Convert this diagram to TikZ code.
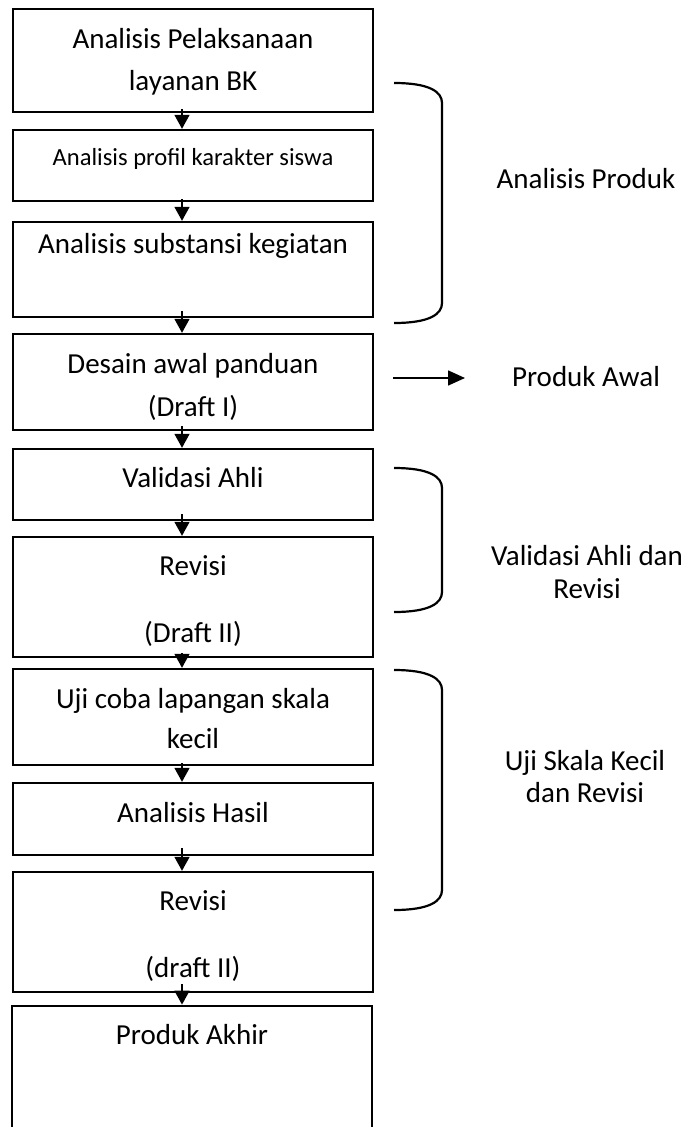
\documentclass[tikz,border=0pt]{standalone}
\usepackage{fontspec}
\setmainfont{Carlito}
\usetikzlibrary{arrows.meta}
\begin{document}
\begin{tikzpicture}[x=1pt,y=-1pt,
  box/.style={draw=black, line width=2.4pt, rectangle, inner sep=0pt, minimum width=360pt},
  txt/.style={anchor=base, inner sep=0pt, font=\fontsize{29}{35}\selectfont},
  smalltxt/.style={anchor=base, inner sep=0pt, font=\fontsize{24.6}{30}\selectfont},
  flow/.style={line width=1.6pt, -{Triangle[width=15pt,length=14pt]}},
  sideflow/.style={line width=1.6pt, -{Triangle[width=15pt,length=17pt]}},
  brace/.style={line width=2.2pt},
]
\clip (0,0) rectangle (688,1127);
\useasboundingbox (0,0) rectangle (688,1127);
\coordinate (ax) at (182,0);

% boxes
\node[box, minimum height=103pt] (b1) at (193,60.5) {};
\node[box, minimum height=71pt]  (b2) at (193,165.5) {};
\node[box, minimum height=95pt]  (b3) at (193,269.5) {};
\node[box, minimum height=96pt]  (b4) at (193,382) {};
\node[box, minimum height=71pt]  (b5) at (193,484.5) {};
\node[box, minimum height=120pt] (b6) at (193,597) {};
\node[box, minimum height=96pt]  (b7) at (193,717) {};
\node[box, minimum height=72pt]  (b8) at (193,819) {};
\node[box, minimum height=120pt] (b9) at (193,932) {};
\node[box, line width=2.8pt, minimum height=134pt] (b10) at (192,1073) {};

% box texts
\node[txt] (t1a) at (193,48) {Analisis Pelaksanaan};
\node[txt] (t1b) at (193,90) {layanan BK};
\node[smalltxt] (t2) at (193,165) {Analisis profil karakter siswa};
\node[txt] (t3) at (193,253) {Analisis substansi kegiatan};
\node[txt] (t4a) at (193,373) {Desain awal panduan};
\node[txt] (t4b) at (193,416) {(Draft I)};
\node[txt] (t5) at (193,487) {Validasi Ahli};
\node[txt] (t6a) at (193,575) {Revisi};
\node[txt] (t6b) at (193,642) {(Draft II)};
\node[txt] (t7a) at (193,708) {Uji coba lapangan skala};
\node[txt] (t7b) at (193,748) {kecil};
\node[txt] (t8) at (193,822) {Analisis Hasil};
\node[txt] (t9a) at (193,910) {Revisi};
\node[txt] (t9b) at (193,977) {(draft II)};
\node[txt] (t10) at (192,1044) {Produk Akhir};

% flow arrows
\draw[flow] ([yshift=4pt]b1.south -| ax) -- (b2.north -| ax);
\draw[flow] ([yshift=3pt]b2.south -| ax) -- (b3.north -| ax);
\draw[flow] ([yshift=7pt]b3.south -| ax) -- (b4.north -| ax);
\draw[flow] ([yshift=5pt]b4.south -| ax) -- (b5.north -| ax);
\draw[flow] ([yshift=7pt]b5.south -| ax) -- (b6.north -| ax);
\draw[flow] ([yshift=5pt]b6.south -| ax) -- (b7.north -| ax);
\draw[flow] ([yshift=3pt]b7.south -| ax) -- (b8.north -| ax);
\draw[flow] ([yshift=8pt]b8.south -| ax) -- (b9.north -| ax);
\draw[flow] ([yshift=9pt]b9.south -| ax) -- (b10.north -| ax);

% brackets
\draw[brace] (394,83) .. controls (430,83) and (442,92) .. (442,103) -- (442,303)
  .. controls (442,314) and (430,323) .. (394,323);
\draw[brace] (394,468) .. controls (430,468) and (442,477) .. (442,488) -- (442,592)
  .. controls (442,603) and (430,612) .. (394,612);
\draw[brace] (394,670) .. controls (430,670) and (442,679) .. (442,690) -- (442,890)
  .. controls (442,901) and (430,910) .. (394,910);

% side labels
\node[txt] (l1) at (586,188) {Analisis Produk};
\coordinate (pa0) at (393,378);
\coordinate (pa1) at (465,378);
\draw[sideflow] (pa0) -- (pa1);
\node[txt] (l2) at (586,386) {Produk Awal};
\node[txt] (l3a) at (587,565) {Validasi Ahli dan};
\node[txt] (l3b) at (587,598) {Revisi};
\node[txt] (l4a) at (585,770) {Uji Skala Kecil};
\node[txt] (l4b) at (585,802) {dan Revisi};
\end{tikzpicture}
\end{document}
